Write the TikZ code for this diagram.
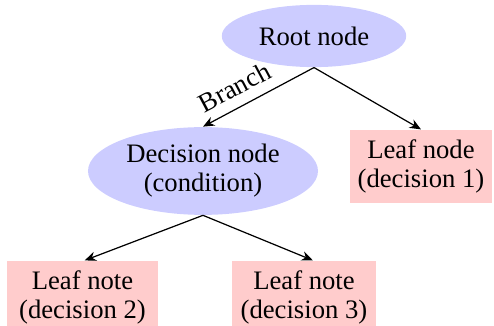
\documentclass[tikz,border=0pt]{standalone}
\usepackage{fontspec}
\setmainfont{Liberation Serif}
\usetikzlibrary{shapes,arrows.meta,positioning}
\definecolor{splitfill}{RGB}{204,204,255}
\definecolor{leaffill}{RGB}{255,204,204}

\begin{document}
\begin{tikzpicture}[x=0.45pt, y=-0.45pt,
  splitnode/.style={ellipse, fill=splitfill, inner sep=0pt, align=center, font=\fontsize{12}{13}\selectfont},
  leafnode/.style={rectangle, fill=leaffill, inner sep=0pt, minimum height=33pt, align=center, font=\fontsize{12}{13}\selectfont},
  arr/.style={-{Stealth[length=1.8mm, width=1.5mm]}, line width=0.55pt}
]
  \useasboundingbox (0,0) rectangle (494,326);
  \node[splitnode, minimum width=83pt, minimum height=28pt] (root) at (314,36) {Root node};
  \node[splitnode, minimum width=103.5pt, minimum height=39.5pt] (decision) at (203,171) {Decision node\\(condition)};
  \node[leafnode, minimum width=64pt] (leaf1) at (421,166.5) {Leaf node\\(decision 1)};
  \node[leafnode, minimum width=68pt] (leaf2) at (82.5,297.5) {Leaf note\\(decision 2)};
  \node[leafnode, minimum width=65pt] (leaf3) at (304,297.5) {Leaf note\\(decision 3)};

  \draw[arr] (root.south) -- node[pos=0.63, above, sloped, inner sep=4.5pt, font=\fontsize{12}{13}\selectfont] {Branch} (decision.north);
  \draw[arr] (root.south) -- (leaf1.north);
  \draw[arr] (decision.south) -- ([xshift=1pt]leaf2.north);
  \draw[arr] (decision.south) -- ([xshift=4pt]leaf3.north);
\end{tikzpicture}
\end{document}
